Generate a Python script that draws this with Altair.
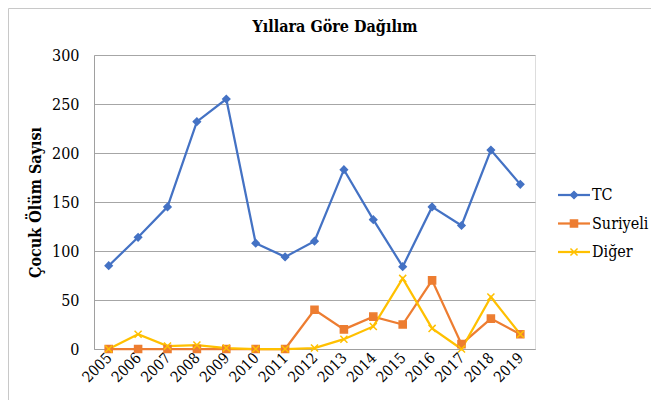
import altair as alt
import pandas as pd

years = [str(y) for y in range(2005, 2020)]
series_names = ["TC", "Suriyeli", "Diğer"]
tc = [85, 114, 145, 232, 255, 108, 94, 110, 183, 132, 84, 145, 126, 203, 168]
suriyeli = [0, 0, 0, 0, 0, 0, 0, 40, 20, 33, 25, 70, 5, 31, 15]
diger = [0, 15, 3, 4, 1, 0, 0, 1, 10, 23, 72, 21, 0, 53, 15]
colors = ["#4472C4", "#ED7D31", "#FFC000"]
shapes = ["diamond", "square", "M-1,-1L1,1M-1,1L1,-1"]
chart_title = "Yıllara Göre Dağılım"
y_title = "Çocuk Ölüm Sayısı"

rows = []
for name, vals in zip(series_names, [tc, suriyeli, diger]):
    for y, v in zip(years, vals):
        rows.append({"Yıl": y, "Seri": name, "Değer": v})
df = pd.DataFrame(rows)
leg_df = pd.DataFrame({"Seri": series_names})

FONT = "DejaVu Serif Condensed"

x_enc = alt.X("Yıl:O", sort=years,
              scale=alt.Scale(type="point", padding=0.5),
              axis=alt.Axis(title=None, labelAngle=-45, labelAlign="right",
                            labelBaseline="middle", labelFont=FONT, labelFontSize=15,
                            labelColor="#000000", labelPadding=6, ticks=False,
                            domainColor="#a0a0a0", grid=False))
y_enc = alt.Y("Değer:Q",
              scale=alt.Scale(domain=[0, 300], nice=False),
              axis=alt.Axis(title=y_title, values=[0, 50, 100, 150, 200, 250, 300],
                            labelFont=FONT, labelFontSize=16, labelColor="#000000",
                            labelPadding=15, ticks=False, domainColor="#a0a0a0",
                            gridColor="#a6a6a6", gridWidth=1,
                            titleFont=FONT, titleFontSize=16, titleFontWeight="bold",
                            titleColor="#000000", titleX=-59, titleY=147, titleAngle=270,
                            titleAlign="center", titleBaseline="middle"))

color_scale = alt.Scale(domain=series_names, range=colors)
shape_scale = alt.Scale(domain=series_names, range=shapes)

lines = alt.Chart(df).mark_line(strokeWidth=2.25).encode(
    x=x_enc, y=y_enc,
    color=alt.Color("Seri:N", scale=color_scale, legend=None),
)

points = alt.Chart(df).mark_point(filled=False, strokeWidth=1.5, opacity=1).encode(
    x=x_enc, y=y_enc,
    color=alt.Color("Seri:N", scale=color_scale, legend=None),
    fill=alt.Fill("Seri:N", scale=color_scale, legend=None),
    shape=alt.Shape("Seri:N", scale=shape_scale, legend=None),
    size=alt.value(50),
)

main = alt.layer(lines, points)

leg_y = alt.Y("Seri:N", sort=series_names,
              scale=alt.Scale(type="point", domain=series_names, range=[140, 197], padding=0),
              axis=None)
leg_line = alt.Chart(leg_df).mark_rule(strokeWidth=2.25).encode(
    x=alt.value(464), x2=alt.value(496), y=leg_y,
    color=alt.Color("Seri:N", scale=color_scale, legend=None),
)
leg_pt = alt.Chart(leg_df).mark_point(filled=False, strokeWidth=1.5, opacity=1).encode(
    x=alt.value(480), y=leg_y,
    color=alt.Color("Seri:N", scale=color_scale, legend=None),
    fill=alt.Fill("Seri:N", scale=color_scale, legend=None),
    shape=alt.Shape("Seri:N", scale=shape_scale, legend=None),
    size=alt.value(50),
)
leg_txt = alt.Chart(leg_df).mark_text(align="left", baseline="middle", font=FONT,
                                      fontSize=16, color="#000000").encode(
    x=alt.value(498), y=leg_y, text="Seri:N",
)
legend = alt.layer(leg_line, leg_pt, leg_txt)

title_df = pd.DataFrame({"t": [chart_title]})
title = alt.Chart(title_df).mark_text(font=FONT, fontSize=16, fontWeight="bold",
                                      color="#000000", align="center",
                                      baseline="alphabetic").encode(
    x=alt.value(241), y=alt.value(-23), text="t:N")

border = alt.Chart(pd.DataFrame({"k": [0]})).mark_rule(color="#c8c8c8", strokeWidth=1).encode(
    x=alt.value(-85.5), x2=alt.value(560), y=alt.value(-46.5)
)
border2 = alt.Chart(pd.DataFrame({"k": [0]})).mark_rule(color="#c8c8c8", strokeWidth=1).encode(
    x=alt.value(-85.5), y=alt.value(-46.5), y2=alt.value(345)
)

chart = alt.layer(main, legend, title, border, border2).resolve_scale(
    y="independent"
).properties(
    width=441, height=294,
    autosize=alt.AutoSizeParams(type="none"),
    padding={"left": 86, "top": 47, "right": 116, "bottom": 51},
).configure_view(stroke=None).configure(background="white")

chart.save("out.html", embed_options={"renderer": "svg", "actions": False})
